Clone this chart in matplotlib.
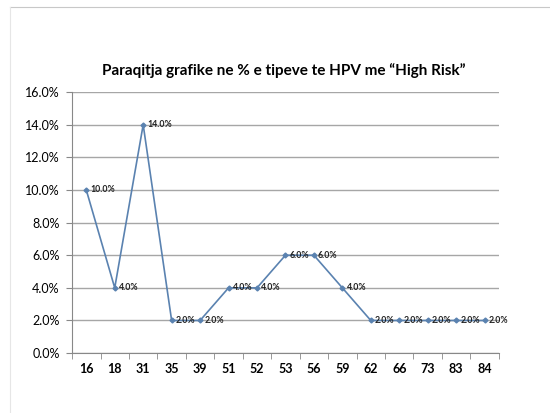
import numpy as np
import matplotlib.pyplot as plt
from matplotlib.lines import Line2D
from matplotlib.ticker import FuncFormatter

hpv_types = ["16", "18", "31", "35", "39", "51", "52", "53", "56", "59", "62", "66", "73", "83", "84"]
percent = [10.0, 4.0, 14.0, 2.0, 2.0, 4.0, 4.0, 6.0, 6.0, 4.0, 2.0, 2.0, 2.0, 2.0, 2.0]

plt.rcParams['font.family'] = ['Lato', 'DejaVu Sans']

fig = plt.figure(figsize=(5.5, 4.13), dpi=100)
ax = fig.add_axes([0.131, 0.145, 0.776, 0.632])

x = np.arange(len(hpv_types))
ax.plot(x, percent, color="#5a82b0", lw=1.2, marker="D", ms=2.5, zorder=3)

for xi, v in zip(x, percent):
    ax.annotate("%.1f%%" % v, (xi, v), xytext=(3, 0), textcoords="offset points",
                ha="left", va="center", fontsize=6.3, fontweight="bold", color="#222222")

ax.set_xlim(-0.5, len(hpv_types) - 0.5)
ax.set_ylim(0, 16)
ax.set_yticks(np.arange(0, 17, 2))
ax.yaxis.set_major_formatter(FuncFormatter(lambda v, p: "%.1f%%" % v))
ax.set_xticks(x)
ax.set_xticklabels(hpv_types, fontweight="bold")
ax.set_xticks(np.arange(-0.5, len(hpv_types)), minor=True)
ax.tick_params(axis="x", which="major", length=0, labelsize=9, pad=7)
ax.tick_params(axis="x", which="minor", length=4, color="#888888")
ax.tick_params(axis="y", length=4, color="#888888", labelsize=9, pad=5)

ax.grid(axis="y", color="#a6a6a6", lw=1)
ax.set_axisbelow(True)
for s in ["top", "right"]:
    ax.spines[s].set_visible(False)
ax.spines["left"].set_color("#888888")
ax.spines["bottom"].set_color("#888888")

fig.text(0.515, 0.83, "Paraqitja grafike ne % e tipeve te HPV me \u201cHigh Risk\u201d",
         ha="center", va="center", fontsize=11, fontweight="bold")

# thin outer frame of the chart area
fig.add_artist(Line2D([0.018, 1.0], [0.982, 0.982], color="#c8c8c8", lw=0.8))
fig.add_artist(Line2D([0.018, 0.018], [0.0, 0.982], color="#e6e6e6", lw=0.8))

fig.savefig("out.png", dpi=100)
